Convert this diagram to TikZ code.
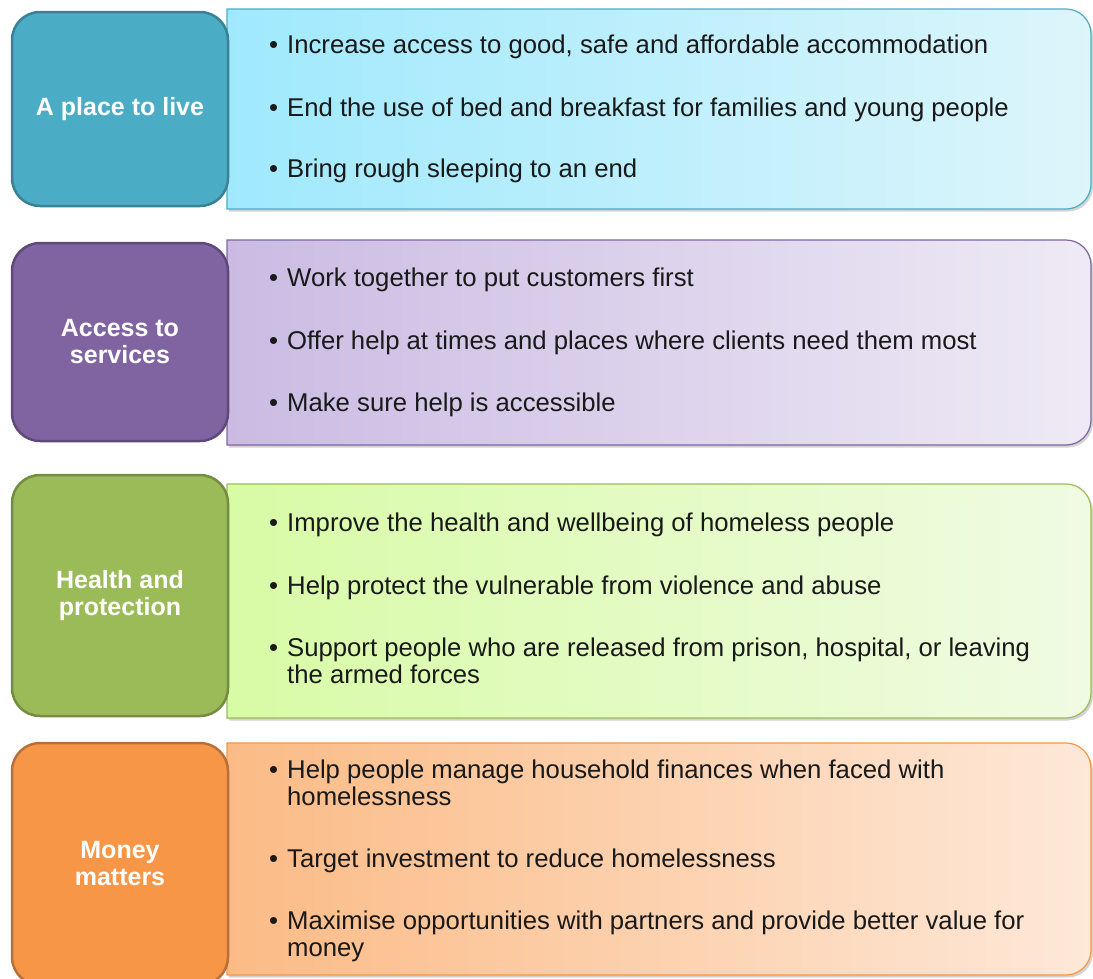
\documentclass[tikz,border=0pt]{standalone}
\usepackage{fontspec}
\setmainfont{Liberation Sans}
\usetikzlibrary{shadows}

\definecolor{liveFill}{HTML}{4BACC6}
\definecolor{liveLine}{HTML}{3A8196}
\definecolor{liveL}{HTML}{A0E9FD}
\definecolor{liveR}{HTML}{DDF5FB}
\definecolor{servFill}{HTML}{8064A2}
\definecolor{servLine}{HTML}{5E4A78}
\definecolor{servL}{HTML}{CBBBE3}
\definecolor{servR}{HTML}{EEEAF5}
\definecolor{healFill}{HTML}{9BBB59}
\definecolor{healLine}{HTML}{748D42}
\definecolor{healL}{HTML}{D8FBA6}
\definecolor{healR}{HTML}{F0FBE3}
\definecolor{monFill}{HTML}{F79646}
\definecolor{monLine}{HTML}{B8703A}
\definecolor{monL}{HTML}{FBBB86}
\definecolor{monR}{HTML}{FEE8D8}

\tikzset{
  theme/.style={rounded corners=28pt, line width=2.5pt, text=white,
    minimum width=216pt, align=center, inner sep=0pt,
    font=\fontsize{25}{27}\selectfont\bfseries},
  panel/.style={line width=1.2pt,
    drop shadow={shadow xshift=2pt, shadow yshift=-2.5pt, opacity=0.35}},
  item/.style={anchor=base west, inner sep=0pt, text=black!90,
    font=\fontsize{25.7}{28}\selectfont},
}
\newcommand{\bul}{\makebox[0pt][r]{•\hspace{9pt}}}

\begin{document}
\begin{tikzpicture}[x=1pt,y=1pt]
    \clip (0,0) rectangle (1093,-978);
    % panels behind
    \path[panel, left color=liveL, right color=liveR, draw=liveFill] (227,-9) -- (1066,-9) arc[start angle=90, end angle=0, radius=25pt] -- (1091,-184) arc[start angle=0, end angle=-90, radius=25pt] -- (227,-209) -- cycle;
    \path[panel, left color=servL, right color=servR, draw=servFill] (227,-240) -- (1066,-240) arc[start angle=90, end angle=0, radius=25pt] -- (1091,-420) arc[start angle=0, end angle=-90, radius=25pt] -- (227,-445) -- cycle;
    \path[panel, left color=healL, right color=healR, draw=healFill] (227,-484) -- (1066,-484) arc[start angle=90, end angle=0, radius=25pt] -- (1091,-693) arc[start angle=0, end angle=-90, radius=25pt] -- (227,-718) -- cycle;
    \path[panel, left color=monL, right color=monR, draw=monFill] (227,-743) -- (1066,-743) arc[start angle=90, end angle=0, radius=25pt] -- (1091,-950) arc[start angle=0, end angle=-90, radius=25pt] -- (227,-975) -- cycle;
    % themes
    \node[theme, fill=liveFill, draw=liveLine, minimum height=194pt] (live) at (120,-109) {A place to live};
    \node[theme, fill=servFill, draw=servLine, minimum height=198pt] (services) at (120,-342) {Access to\\services};
    \node[theme, fill=healFill, draw=healLine, minimum height=241pt] (health) at (120,-595.5) {Health and\\protection};
    \node[theme, fill=monFill, draw=monLine, minimum height=242pt] (money) at (120,-864) {Money\\matters};
    % bullet points
    \node[item] (live1) at (287,-53) {\bul Increase access to good, safe and affordable accommodation};
    \node[item] (live2) at (287,-116) {\bul End the use of bed and breakfast for families and young people};
    \node[item] (live3) at (287,-177) {\bul Bring rough sleeping to an end};
    \node[item] (serv1) at (287,-286) {\bul Work together to put customers first};
    \node[item] (serv2) at (287,-349) {\bul Offer help at times and places where clients need them most};
    \node[item] (serv3) at (287,-411) {\bul Make sure help is accessible};
    \node[item] (heal1) at (287,-531) {\bul Improve the health and wellbeing of homeless people};
    \node[item] (heal2) at (287,-594) {\bul Help protect the vulnerable from violence and abuse};
    \node[item] (heal3) at (287,-656) {\bul Support people who are released from prison, hospital, or leaving};
    \node[item] (heal3b) at (287,-683) {the armed forces};
    \node[item] (mon1) at (287,-778) {\bul Help people manage household finances when faced with};
    \node[item] (mon1b) at (287,-805) {homelessness};
    \node[item] (mon2) at (287,-867) {\bul Target investment to reduce homelessness};
    \node[item] (mon3) at (287,-929) {\bul Maximise opportunities with partners and provide better value for};
    \node[item] (mon3b) at (287,-956) {money};
\end{tikzpicture}
\end{document}
